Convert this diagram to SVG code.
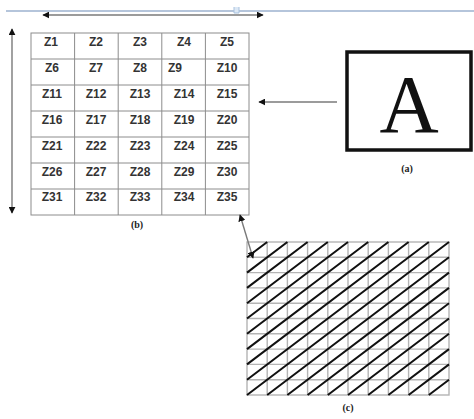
<svg xmlns="http://www.w3.org/2000/svg" width="474" height="419" viewBox="0 0 474 419">
  <defs>
    <marker id="head" viewBox="0 0 10 10" refX="9" refY="5" markerWidth="7" markerHeight="7" markerUnits="userSpaceOnUse" orient="auto-start-reverse">
      <path d="M0,0 L10,5 L0,10 z" fill="#111"/>
    </marker>
    <style>
      .conn { stroke: #7a7a7a; stroke-width: 1.4; fill: none; }
      .gridb { stroke: #8c8c8c; stroke-width: 1; fill: none; }
      .gridc { stroke: #b4b4b4; stroke-width: 1.4; fill: none; }
      .diag { stroke: #111; stroke-width: 2; fill: none; }
      .z { font-family: "Liberation Sans", Arial, sans-serif; font-weight: bold; font-size: 12px; fill: #333; text-anchor: middle; }
      .cap { font-family: "Liberation Serif", "Times New Roman", serif; font-weight: bold; font-size: 10px; fill: #222; text-anchor: middle; }
    </style>
  </defs>
  <rect width="474" height="419" fill="#fff"/>

  <!-- page ruler line with tab stop -->
  <g id="ruler">
    <line x1="6" y1="11" x2="474" y2="11" stroke="#9cb2cf" stroke-width="1.5"/>
    <path d="M234,7 v6 h5 v-6" fill="#dce8f5" stroke="#a9c2de" stroke-width="1"/>
  </g>

  <!-- zone grid (b) -->
  <g id="grid-b">
    <rect class="gridb" x="31" y="33" width="218" height="182"/>
    <path class="gridb" d="M74.6,33 V215 M118.2,33 V215 M161.8,33 V215 M205.4,33 V215 M31,59 H249 M31,85 H249 M31,111 H249 M31,137 H249 M31,163 H249 M31,189 H249"/>
    <g class="z">
      <text x="51" y="46">Z1</text><text x="96" y="46">Z2</text><text x="140" y="46">Z3</text><text x="184" y="46">Z4</text><text x="227" y="46">Z5</text>
      <text x="52" y="72">Z6</text><text x="96" y="72">Z7</text><text x="140" y="72">Z8</text><text x="175" y="72">Z9</text><text x="227" y="72">Z10</text>
      <text x="52" y="98">Z11</text><text x="96" y="98">Z12</text><text x="140" y="98">Z13</text><text x="184" y="98">Z14</text><text x="227" y="98">Z15</text>
      <text x="52" y="124">Z16</text><text x="96" y="124">Z17</text><text x="140" y="124">Z18</text><text x="184" y="124">Z19</text><text x="227" y="124">Z20</text>
      <text x="52" y="150">Z21</text><text x="96" y="150">Z22</text><text x="140" y="150">Z23</text><text x="184" y="150">Z24</text><text x="227" y="150">Z25</text>
      <text x="52" y="176">Z26</text><text x="96" y="176">Z27</text><text x="140" y="176">Z28</text><text x="184" y="176">Z29</text><text x="227" y="176">Z30</text>
      <text x="52" y="201">Z31</text><text x="96" y="201">Z32</text><text x="140" y="201">Z33</text><text x="184" y="201">Z34</text><text x="227" y="201">Z35</text>
    </g>
    <text class="cap" x="137" y="228">(b)</text>
  </g>

  <!-- source image (a) -->
  <g id="box-a">
    <rect x="347" y="52" width="124" height="98" fill="#fff" stroke="#111" stroke-width="3.5"/>
    <text x="409" y="132" font-family="Liberation Serif, 'Times New Roman', serif" font-size="82" fill="#111" text-anchor="middle">A</text>
    <text class="cap" x="407" y="172">(a)</text>
  </g>

  <!-- triangulated mesh (c) -->
  <g id="grid-c">
    <rect class="gridc" x="247" y="242" width="202" height="153"/>
    <path class="gridc" d="M267.2,242 V395 M287.4,242 V395 M307.6,242 V395 M327.8,242 V395 M348,242 V395 M368.2,242 V395 M388.4,242 V395 M408.6,242 V395 M428.8,242 V395 M247,257.3 H449 M247,272.6 H449 M247,287.9 H449 M247,303.2 H449 M247,318.5 H449 M247,333.8 H449 M247,349.1 H449 M247,364.4 H449 M247,379.7 H449"/>
    <path class="diag" d="M247,257.3 L267.2,242 M247,272.6 L287.4,242 M247,287.9 L307.6,242 M247,303.2 L327.8,242 M247,318.5 L348,242 M247,333.8 L368.2,242 M247,349.1 L388.4,242 M247,364.4 L408.6,242 M247,379.7 L428.8,242 M247,395 L449,242 M267.2,395 L449,257.3 M287.4,395 L449,272.6 M307.6,395 L449,287.9 M327.8,395 L449,303.2 M348,395 L449,318.5 M368.2,395 L449,333.8 M388.4,395 L449,349.1 M408.6,395 L449,364.4 M428.8,395 L449,379.7"/>
    <text class="cap" x="348" y="411">(c)</text>
  </g>

  <!-- connectors -->
  <g id="connectors">
    <line class="conn" x1="43" y1="15" x2="263" y2="15" marker-start="url(#head)" marker-end="url(#head)"/>
    <line class="conn" x1="12" y1="29" x2="12" y2="213" marker-start="url(#head)" marker-end="url(#head)"/>
    <line class="conn" x1="337" y1="102" x2="259" y2="102" marker-end="url(#head)"/>
    <line class="conn" x1="240" y1="215" x2="253" y2="258" marker-start="url(#head)" marker-end="url(#head)"/>
  </g>
</svg>
